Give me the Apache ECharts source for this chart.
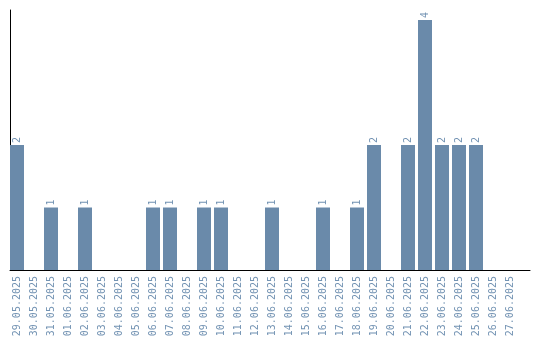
<!DOCTYPE html>
<html>
<head>
<meta charset="utf-8">
<script src="https://cdn.jsdelivr.net/npm/echarts@6/dist/echarts.min.js"></script>
<style>html,body{margin:0;padding:0;background:#fff}#c{width:540px;height:340px}</style>
</head>
<body>
<div id="c"></div>
<script>
const categories = ["29.05.2025","30.05.2025","31.05.2025","01.06.2025","02.06.2025","03.06.2025","04.06.2025","05.06.2025","06.06.2025","07.06.2025","08.06.2025","09.06.2025","10.06.2025","11.06.2025","12.06.2025","13.06.2025","14.06.2025","15.06.2025","16.06.2025","17.06.2025","18.06.2025","19.06.2025","20.06.2025","21.06.2025","22.06.2025","23.06.2025","24.06.2025","25.06.2025","26.06.2025","27.06.2025"];
const values = [2,0,1,0,1,0,0,0,1,1,0,1,1,0,0,1,0,0,1,0,1,2,0,2,4,2,2,2,0,0];

const barColor = '#6a8aaa';
const textColor = '#7393b3';
const font = 'DejaVu Sans Mono';

const chart = echarts.init(document.getElementById('c'), null, {renderer:'canvas'});
chart.setOption({
  animation: false,
  grid: [
    {left: 8.5, width: 510, top: 10, bottom: 70},
    {left: 10, right: 10, top: 10, bottom: 70}
  ],
  xAxis: [
    {type:'category', gridIndex:0, data: categories,
     axisLine:{show:false}, axisTick:{show:false},
     axisLabel:{interval:0, rotate:90, margin:6, color:textColor, fontFamily:font, fontSize:10}},
    {type:'value', gridIndex:1, min:0, max:1,
     axisLine:{show:true, lineStyle:{color:'#000', width:1}}, axisTick:{show:false},
     axisLabel:{show:false}, splitLine:{show:false}}
  ],
  yAxis: [
    {type:'value', gridIndex:0, min:0, max:4.16, show:false, splitLine:{show:false}},
    {type:'value', gridIndex:1, min:0, max:1,
     axisLine:{show:true, lineStyle:{color:'#000', width:1}}, axisTick:{show:false},
     axisLabel:{show:false}, splitLine:{show:false}}
  ],
  series: [{
    type:'bar', xAxisIndex:0, yAxisIndex:0,
    data: values.map(v => v === 0 ? {value: v, label:{show:false}} : v),
    barWidth: 14,
    itemStyle:{color: barColor},
    label:{show:true, position:'top', rotate:90, align:'left', verticalAlign:'middle',
      distance:2, color:textColor, fontFamily:font, fontSize:10}
  }]
});
</script>
</body>
</html>
